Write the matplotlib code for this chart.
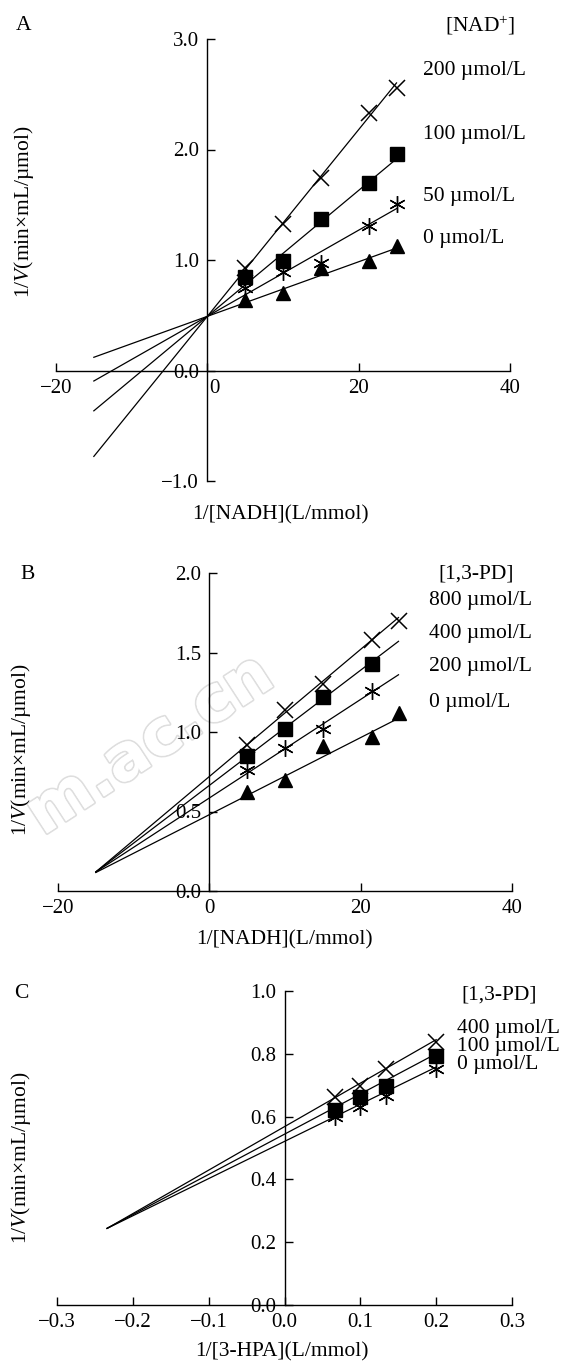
import numpy as np
import matplotlib
matplotlib.use("Agg")
import matplotlib.pyplot as plt
import matplotlib.patheffects as pe
from matplotlib.transforms import ScaledTranslation

plt.rcParams['font.family'] = ['Liberation Serif', 'DejaVu Serif']
plt.rcParams['mathtext.fontset'] = 'custom'
plt.rcParams['mathtext.rm'] = 'Liberation Serif'
plt.rcParams['mathtext.it'] = 'Liberation Serif:italic'
plt.rcParams['axes.unicode_minus'] = True

# ---- data, panel A: 1/[NADH] vs 1/V at several [NAD+]
a_x = [5, 10, 15, 21.3, 25]
a_labels = ['0 µmol/L', '50 µmol/L', '100 µmol/L', '200 µmol/L']
a_y = [[0.64, 0.70, 0.93, 0.99, 1.13],
       [0.75, 0.89, 0.97, 1.31, 1.51],
       [0.85, 0.99, 1.37, 1.70, 1.96],
       [0.93, 1.33, 1.74, 2.33, 2.56]]
a_slope = [0.0247, 0.039, 0.057, 0.0845]
a_icpt = [0.49, 0.49, 0.49, 0.49]
a_line_x = [-15, 25]

# ---- panel B: 1/[NADH] vs 1/V at several [1,3-PD]
b_x = [5, 10, 15, 21.5, 25]
b_labels = ['0 µmol/L', '200 µmol/L', '400 µmol/L', '800 µmol/L']
b_y = [[0.62, 0.70, 0.91, 0.97, 1.12],
       [0.76, 0.90, 1.02, 1.26],
       [0.85, 1.02, 1.22, 1.43],
       [0.92, 1.14, 1.30, 1.58, 1.70]]
b_slope = [0.02425, 0.031, 0.03625, 0.040]
b_icpt = [0.48, 0.585, 0.664, 0.72]
b_line_x = [-15, 25]

# ---- panel C: 1/[3-HPA] vs 1/V at several [1,3-PD]
c_x = [0.0667, 0.1, 0.1333, 0.2]
c_labels = ['0 µmol/L', '100 µmol/L', '400 µmol/L']
c_y = [[0.600, 0.632, 0.665, 0.752],
       [0.622, 0.663, 0.696, 0.793],
       [0.663, 0.697, 0.753, 0.838]]
c_slope = [1.184, 1.281, 1.385]
c_icpt = [0.521, 0.544, 0.568]
c_line_x = [-0.234, 0.2]

W, H = 561, 1363
FS = 15.5
fig = plt.figure(figsize=(W / 100, H / 100), dpi=100)


def px(x, y):
    return x / W, 1 - y / H


def make_axes(left, right, top, bottom):
    ax = fig.add_axes([left / W, 1 - bottom / H, (right - left) / W, (bottom - top) / H])
    ax.patch.set_visible(False)
    for s in ['top', 'right']:
        ax.spines[s].set_visible(False)
    ax.spines['left'].set_position(('data', 0))
    ax.spines['bottom'].set_position(('data', 0))
    for s in ['left', 'bottom']:
        ax.spines[s].set_linewidth(1.0)
    ax.tick_params(direction='in', length=6, width=1.0, labelsize=15, pad=6)
    return ax


def marker_kw(m):
    if m == '^':
        return dict(marker='^', ms=10, mfc='black', mec='black')
    if m == 's':
        return dict(marker='s', ms=10, mfc='black', mec='black')
    if m == 'x':
        return dict(marker='x', ms=11, mec='black', mew=1.1)
    return dict(marker=(6, 2, 0), ms=12, mec='black', mew=1.0)


def draw(ax, xs, ys, slopes, icpts, line_x, markers):
    lx = np.array(line_x)
    for yv, sl, ic, m in zip(ys, slopes, icpts, markers):
        ax.plot(lx, ic + sl * lx, color='black', lw=0.9, zorder=2)
        ax.plot(xs[:len(yv)], yv, ls='none', zorder=3, **marker_kw(m))


# ---------- panel A
axA = make_axes(56, 510, 39, 481)
axA.set_xlim(-20, 40)
axA.set_ylim(-1, 3)
axA.set_xticks([-20, 0, 20, 40])
axA.set_yticks([-1, 0, 1, 2, 3])
axA.yaxis.set_major_formatter(lambda v, p: f"{v:.1f}".replace('-', '−'))
draw(axA, a_x, a_y, a_slope, a_icpt, a_line_x, ['^', '*', 's', 'x'])
lab0 = axA.get_xticklabels()[1]
lab0.set_transform(lab0.get_transform() + ScaledTranslation(7 / 100, 0, fig.dpi_scale_trans))

fig.text(*px(16, 26), 'A', fontsize=FS, va='center', ha='left')
fig.text(*px(445, 25), '[NAD$^{+}$]', fontsize=FS, va='center', ha='left')
for lab, yy in zip(a_labels, [239, 197, 134, 70]):
    fig.text(*px(423, yy), lab, fontsize=FS, va='center', ha='left')
fig.text(*px(280, 515), '1/[NADH](L/mmol)', fontsize=FS, va='center', ha='center')
fig.text(*px(24, 212), '1/$V$(min×mL/µmol)', fontsize=FS, va='center', ha='center', rotation=90)

# ---------- panel B
axB = make_axes(58, 512, 573, 891)
axB.set_xlim(-20, 40)
axB.set_ylim(0, 2)
axB.set_xticks([-20, 0, 20, 40])
axB.set_yticks([0, 0.5, 1, 1.5, 2])
axB.yaxis.set_major_formatter(lambda v, p: f"{v:.1f}")
draw(axB, b_x, b_y, b_slope, b_icpt, b_line_x, ['^', '*', 's', 'x'])
# faint watermark of the source journal
axB.text(*px(150, 745), 'm.ac.cn', transform=fig.transFigure, fontsize=46,
         family='DejaVu Sans', weight='bold', color='white', rotation=33,
         rotation_mode='anchor', ha='center', va='center', zorder=0.5,
         path_effects=[pe.withStroke(linewidth=2.5, foreground='#dedede'), pe.Normal()])

fig.text(*px(20, 575), 'B', fontsize=FS, va='center', ha='left')
fig.text(*px(438, 574), '[1,3-PD]', fontsize=FS, va='center', ha='left')
for lab, yy in zip(b_labels, [703, 666, 634, 601]):
    fig.text(*px(429, yy), lab, fontsize=FS, va='center', ha='left')
fig.text(*px(284, 940), '1/[NADH](L/mmol)', fontsize=FS, va='center', ha='center')
fig.text(*px(21, 750), '1/$V$(min×mL/µmol)', fontsize=FS, va='center', ha='center', rotation=90)

# ---------- panel C
axC = make_axes(57, 512, 991, 1305)
axC.set_xlim(-0.3, 0.3)
axC.set_ylim(0, 1)
axC.set_xticks(np.round(np.arange(-0.3, 0.31, 0.1), 1))
axC.set_yticks(np.round(np.arange(0, 1.01, 0.2), 1))
axC.xaxis.set_major_formatter(lambda v, p: f"{v:.1f}".replace('-', '−'))
axC.yaxis.set_major_formatter(lambda v, p: f"{v:.1f}")
draw(axC, c_x, c_y, c_slope, c_icpt, c_line_x, ['*', 's', 'x'])

fig.text(*px(14, 993), 'C', fontsize=FS, va='center', ha='left')
fig.text(*px(461, 995), '[1,3-PD]', fontsize=FS, va='center', ha='left')
for lab, yy in zip(c_labels, [1065, 1047, 1028]):
    fig.text(*px(457, yy), lab, fontsize=FS, va='center', ha='left')
fig.text(*px(282, 1352), '1/[3-HPA](L/mmol)', fontsize=FS, va='center', ha='center')
fig.text(*px(21, 1158), '1/$V$(min×mL/µmol)', fontsize=FS, va='center', ha='center', rotation=90)

fig.savefig('out.png', dpi=100)
